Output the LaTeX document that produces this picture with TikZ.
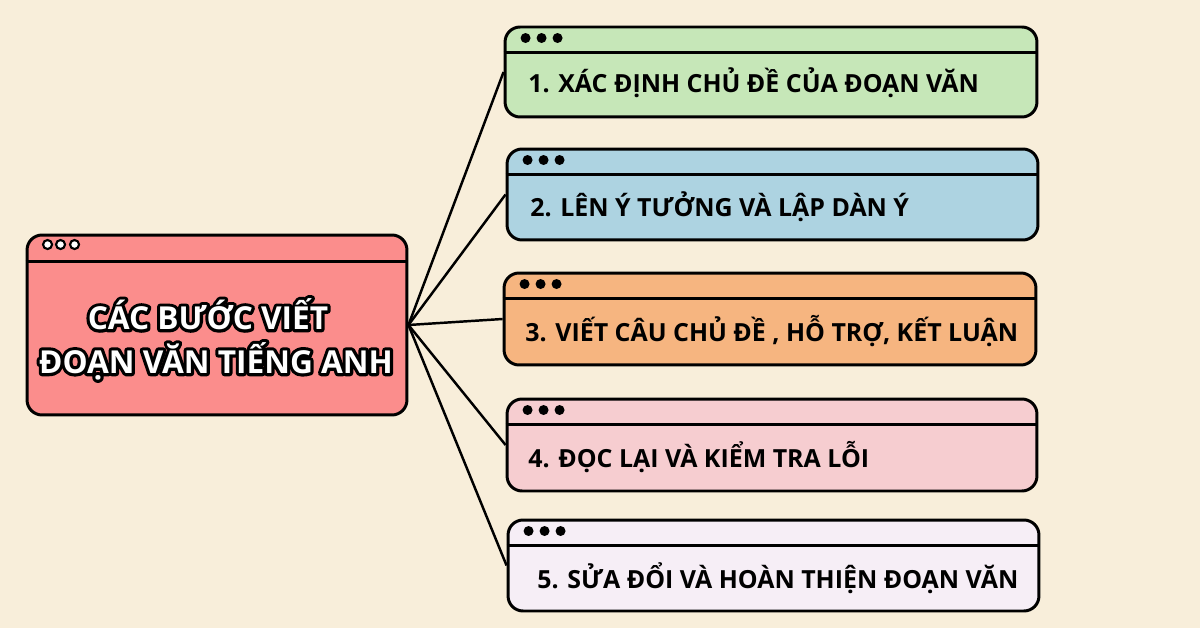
\documentclass[tikz,border=0pt]{standalone}
\usepackage{fontspec}
\setmainfont{Open Sans}
\definecolor{bgc}{HTML}{F8EEDA}
\definecolor{mainc}{HTML}{FB8D8C}
\definecolor{c1}{HTML}{C6E7B8}
\definecolor{c2}{HTML}{ADD3E1}
\definecolor{c3}{HTML}{F6B580}
\definecolor{c4}{HTML}{F6CDD0}
\definecolor{c5}{HTML}{F6EEF6}
\newcommand\outlinedtext[1]{\rlap{\special{pdf:literal direct 0 0 0 rg 0 0 0 RG 2 Tr 3.6 w 1 j}#1\special{pdf:literal direct 0 Tr}}\special{pdf:literal direct 1 1 1 rg}#1\special{pdf:literal direct 0 0 0 rg}}
\begin{document}
\begin{tikzpicture}[x=0.02cm,y=-0.02cm,
  win/.style={draw=black,line width=1.7pt,rounded corners=0.3cm,rectangle,inner sep=0pt},
  hdr/.style={draw=black,line width=1.5pt},
  conn/.style={draw=black,line width=1.4pt},
  itemtext/.style={anchor=west,inner sep=0pt,font=\fontsize{14.2}{17}\selectfont\bfseries,text=black},
  titletext/.style={inner sep=0pt,font=\fontsize{18}{22}\selectfont\bfseries}]
\fill[bgc] (0,0) rectangle (1200,628);
\useasboundingbox (0,0) rectangle (1200,628);
% main box
\node[win,fill=mainc,minimum width=7.6cm,minimum height=3.6cm] (main) at (217,325) {};
\draw[hdr] (main.north west) ++(0,28) -- ++(382,0);
\foreach \dx in {22,35,49}{\draw[fill=white,line width=1.2pt] (main.north west) ++(\dx,11) circle (0.09cm);}
\node[titletext] (t1) at (208,314) {\outlinedtext{CÁC BƯỚC VIẾT}};
\node[titletext] (t2) at (216,361) {\outlinedtext{ĐOẠN VĂN TIẾNG ANH}};
% item boxes
\node[win,fill=c1,minimum width=10.64cm,minimum height=1.8cm] (b1) at (771,72) {};
\node[win,fill=c2,minimum width=10.62cm,minimum height=1.82cm] (b2) at (772.5,194.5) {};
\node[win,fill=c3,minimum width=10.64cm,minimum height=1.84cm] (b3) at (770,319) {};
\node[win,fill=c4,minimum width=10.6cm,minimum height=1.84cm] (b4) at (772,445) {};
\node[win,fill=c5,minimum width=10.62cm,minimum height=1.82cm] (b5) at (773.5,565.5) {};
\foreach \b in {b1,b2,b3,b4,b5}{
  \draw[hdr] (\b.north west) ++(0,27) -- ++(532,0);
  \foreach \dx in {22,38,54}{\fill[black] (\b.north west) ++(\dx,12.5) circle (0.1cm);}
}
\node[itemtext] (l1) at (528,83) {1. XÁC ĐỊNH CHỦ ĐỀ CỦA ĐOẠN VĂN};
\node[itemtext] (l2) at (530,207) {2. LÊN Ý TƯỞNG VÀ LẬP DÀN Ý};
\node[itemtext] (l3) at (525,331) {3. VIẾT CÂU CHỦ ĐỀ , HỖ TRỢ, KẾT LUẬN};
\node[itemtext] (l4) at (528,457) {4. ĐỌC LẠI VÀ KIỂM TRA LỖI};
\node[itemtext] (l5) at (537,578) {5. SỬA ĐỔI VÀ HOÀN THIỆN ĐOẠN VĂN};
% connectors
\foreach \b in {b1,b2,b3,b4,b5}{\draw[conn] (main.east) -- (\b.west);}
\end{tikzpicture}
\end{document}
